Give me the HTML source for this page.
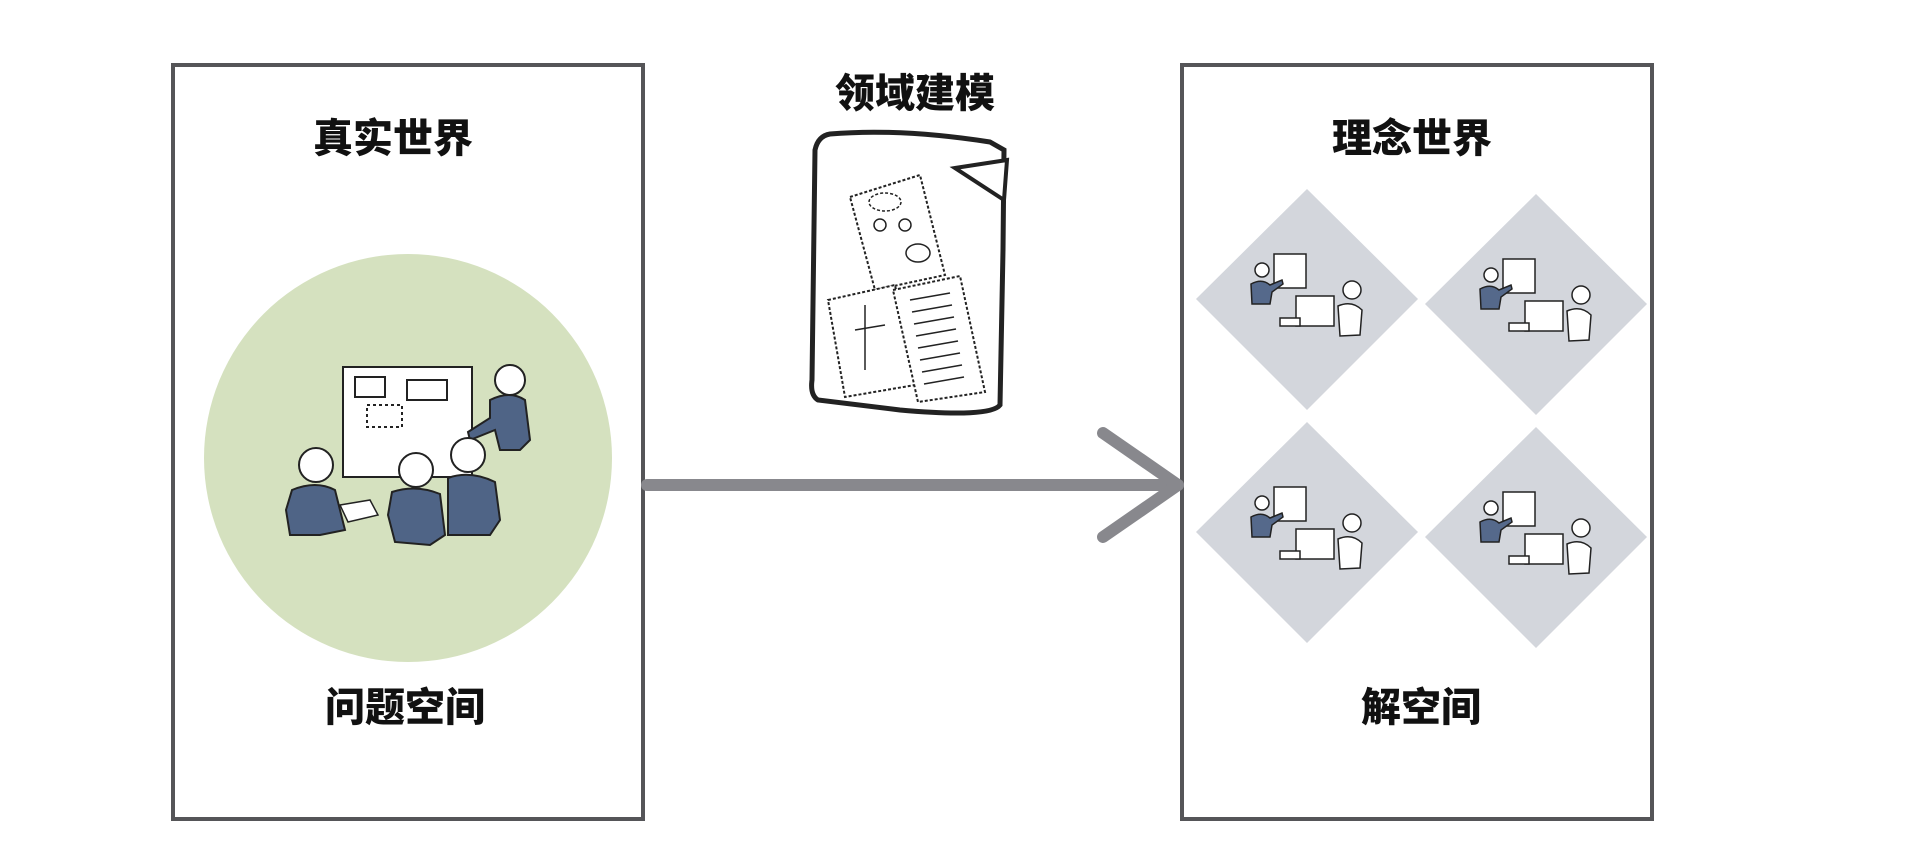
<!DOCTYPE html>
<html><head><meta charset="utf-8"><style>
html,body{margin:0;padding:0;background:#fff;}
body{width:1926px;height:856px;overflow:hidden;position:relative;font-family:"Liberation Sans","Noto Sans CJK SC",sans-serif;}
.t{position:absolute;font-weight:900;font-size:40px;color:#111;transform:translate(-50%,-50%);white-space:nowrap;}
</style></head><body>
<svg width="1926" height="856" style="position:absolute;left:0;top:0">
<rect x="173" y="65" width="470" height="754" fill="none" stroke="#555558" stroke-width="4"/>
<rect x="1182" y="65" width="470" height="754" fill="none" stroke="#555558" stroke-width="4"/>
<circle cx="408" cy="458" r="204" fill="#d5e1bf"/>
<g stroke="#222" stroke-width="2">
<rect x="343" y="367" width="129" height="110" fill="#fff"/>
<rect x="355" y="377" width="30" height="20" fill="none"/>
<rect x="407" y="380" width="40" height="20" fill="none"/>
<rect x="367" y="405" width="35" height="22" fill="none" stroke-dasharray="3,3"/>
<circle cx="510" cy="380" r="15" fill="#fff"/>
<path d="M490 400 Q510 390 525 400 L530 440 L520 450 L500 450 L495 430 L470 440 L468 432 L490 418 Z" fill="#4f6486"/>
<circle cx="316" cy="465" r="17" fill="#fff"/>
<path d="M292 490 Q316 480 335 490 L345 530 L320 535 L290 535 L286 510 Z" fill="#4f6486"/>
<circle cx="468" cy="455" r="17" fill="#fff"/>
<path d="M448 478 Q470 470 495 482 L500 520 L490 535 L448 535 Z" fill="#4f6486"/>
<circle cx="416" cy="470" r="17" fill="#fff"/>
<path d="M392 492 Q416 484 440 494 L445 535 L430 545 L395 542 L388 515 Z" fill="#4f6486"/>
<path d="M340 505 L370 500 L378 515 L348 522 Z" fill="#fff" stroke-width="1.5"/>
</g>
<g stroke="#222" fill="#fff">
<path d="M830 134 Q900 128 990 142 L1004 150 L1003 250 L1000 405 Q990 418 900 410 L818 400 Q810 395 812 380 L815 150 Q818 136 830 134 Z" stroke-width="5"/>
<path d="M955 168 L1007 160 L1004 200 Z" stroke-width="4"/>
<path d="M850 197 L920 175 L945 275 L875 290 Z" stroke-width="2" stroke-dasharray="3,2"/>
<ellipse cx="885" cy="202" rx="16" ry="9" fill="none" stroke-width="1.5" stroke-dasharray="3,2"/>
<circle cx="880" cy="225" r="6" fill="none" stroke-width="1.5"/>
<circle cx="905" cy="225" r="6" fill="none" stroke-width="1.5"/>
<ellipse cx="918" cy="253" rx="12" ry="9" fill="none" stroke-width="1.5"/>
<path d="M828 300 L895 285 L915 385 L845 397 Z" stroke-width="2" stroke-dasharray="3,2"/>
<path d="M893 290 L960 276 L985 392 L918 402 Z" stroke-width="2" stroke-dasharray="3,2"/>
<g stroke-width="1.5">
<line x1="910" y1="300" x2="950" y2="293"/><line x1="912" y1="312" x2="952" y2="305"/><line x1="914" y1="324" x2="954" y2="317"/><line x1="916" y1="336" x2="956" y2="329"/><line x1="918" y1="348" x2="958" y2="341"/><line x1="920" y1="360" x2="960" y2="353"/><line x1="922" y1="372" x2="962" y2="365"/><line x1="924" y1="384" x2="964" y2="377"/>
<line x1="865" y1="305" x2="865" y2="370"/><line x1="855" y1="330" x2="885" y2="325"/>
</g>
</g>
<g stroke="#88888d" stroke-width="12" fill="none" stroke-linecap="round">
<line x1="647" y1="485" x2="1178" y2="485"/>
<polyline points="1103,433 1178,485 1103,537" stroke-linejoin="round"/>
</g>
<g fill="#d3d6dc">
<path d="M1307 189 L1418 299 L1307 410 L1196 299 Z"/>
<path d="M1536 194 L1647 304 L1536 415 L1425 304 Z"/>
<path d="M1307 422 L1418 532 L1307 643 L1196 532 Z"/>
<path d="M1536 427 L1647 537 L1536 648 L1425 537 Z"/>
</g>
<g id="ic" stroke="#222" stroke-width="1.5" fill="#fff">
<rect x="1274" y="254" width="32" height="34"/>
<circle cx="1262" cy="270" r="7"/>
<path d="M1251 284 Q1262 278 1270 285 L1282 280 L1283 284 L1272 292 L1270 304 L1252 304 Z" fill="#55698b"/>
<rect x="1296" y="296" width="38" height="30"/>
<circle cx="1352" cy="290" r="9"/>
<path d="M1338 306 Q1352 300 1362 310 L1360 335 L1340 336 Z"/>
<rect x="1280" y="318" width="20" height="8"/>
</g>
<use href="#ic" x="229" y="5"/>
<use href="#ic" x="0" y="233"/>
<use href="#ic" x="229" y="238"/>
</svg>
<div class="t" style="left:393px;top:135px">真实世界</div>
<div class="t" style="left:405px;top:704px">问题空间</div>
<div class="t" style="left:915px;top:90px">领域建模</div>
<div class="t" style="left:1412px;top:135px">理念世界</div>
<div class="t" style="left:1421px;top:704px">解空间</div>
</body></html>
